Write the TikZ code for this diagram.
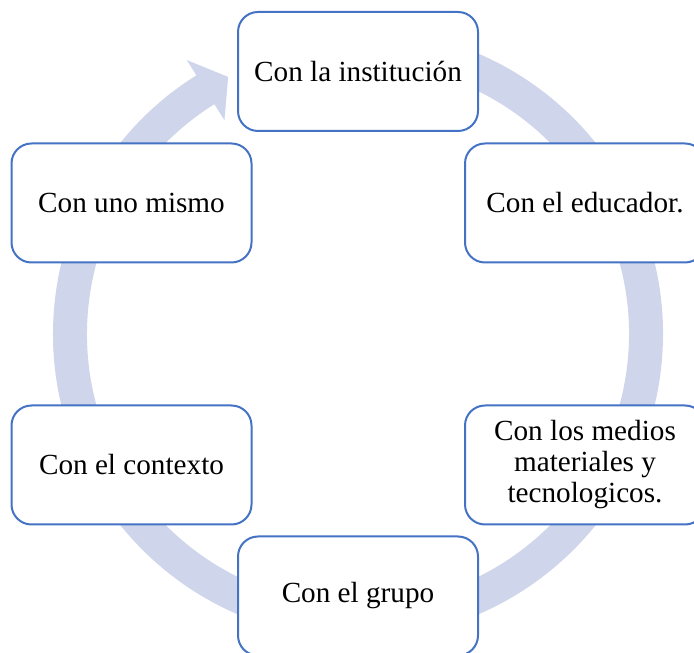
\documentclass[tikz,border=0pt]{standalone}
\usepackage{fontspec}
\setmainfont{Liberation Serif}
\definecolor{boxblue}{HTML}{4472C4}
\definecolor{ringblue}{HTML}{CFD5EA}
\tikzset{
  stage/.style={draw=boxblue,line width=1pt,fill=white,rounded corners=10pt,
    minimum width=120pt,minimum height=59.5pt,inner sep=2pt,align=center,
    font=\fontsize{14.6}{15.5}\selectfont},
  ring/.style={fill=ringblue}
}

\begin{document}
\begin{tikzpicture}[x=0.5pt,y=0.5pt]
    \useasboundingbox (0,0) rectangle (694,652);
    \clip (0,0) rectangle (694,652);

    % — Centre of the cycle
    \coordinate (c) at (358,318);

    % — Circular arrow behind the boxes
    \fill[ring,shift={(c)}] (85:305) arc[start angle=85,end angle=-238,radius=305]
      -- (-238:323) -- (-243.2:288) -- (-238:252) -- (-238:271)
      arc[start angle=-238,end angle=85,radius=271] -- cycle;

    % — Stages of the cycle
    \node[stage] (inst)   at (358,580.5) {Con la institución};
    \node[stage] (educ)   at (585,449)   {Con el educador.};
    \node[stage] (medios) at (585,187)   {Con los medios\\materiales y\\tecnologicos.};
    \node[stage] (grupo)  at (358,56)    {Con el grupo};
    \node[stage] (ctx)    at (131.5,187) {Con el contexto};
    \node[stage] (mismo)  at (131.5,449) {Con uno mismo};
\end{tikzpicture}
\end{document}
